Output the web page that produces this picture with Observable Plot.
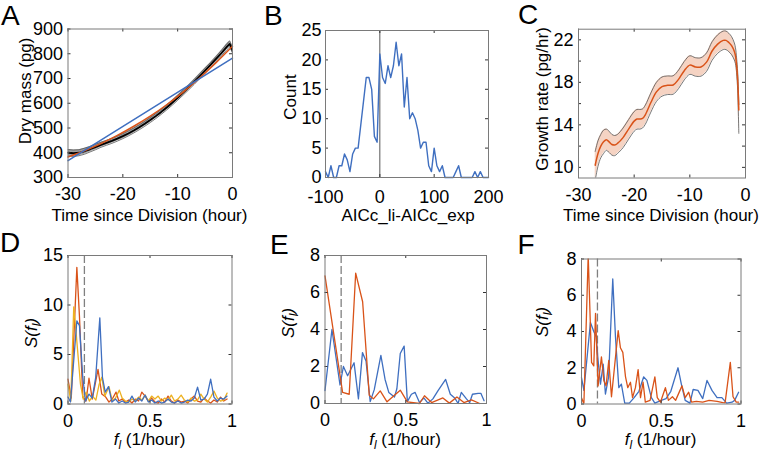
<!DOCTYPE html>
<html><head><meta charset="utf-8">
<script src="https://cdn.jsdelivr.net/npm/d3@7"></script>
<script src="https://cdn.jsdelivr.net/npm/@observablehq/plot@0.6"></script>
<style>
body{margin:0;background:#fff;}
#fig{position:relative;width:762px;height:454px;overflow:hidden;background:#fff}
#fig svg{position:absolute;left:0;top:0}
</style></head><body><div id="fig"></div>
<script>
// ---------------- DATA ----------------
// Panel A: dry mass vs time since division
const aTime = [-30,-29,-28,-27,-26,-25,-24,-23,-22,-21,-20,-19,-18,-17,-16,-15,-14,-13,-12,-11,-10,-9,-8,-7,-6,-5,-4,-3,-2,-1,-0.5,0];
const aMean = [400,398,400,406,414,423,432,440,448,457,467,478,490,503,517,532,548,565,583,602,622,643,664,686,709,732,755,779,803,829,840,815];
const aErr  = [13,13,12,12,11,11,10,10,10,10,10,10,10,10,10,10,10,10,10,10,10,10,10,10,10,10,10,10,11,12,12,12];
const aExpT = [-30,-27,-24,-21,-18,-15,-12,-9,-6,-3,0];
const aExpV = [383,408,437,470,507,548,594,645,702,764,830];
const aLinT = [-30,0];
const aLinV = [368,782];
const aXTicks = [-30,-20,-10,0];
const aYTicks = [300,400,500,600,700,800,900];

// Panel B: histogram of AICc_li - AICc_exp
const bX = [-100,-95,-90,-85,-80,-75,-70,-65,-60,-55,-50,-45,-40,-35,-30,-25,-20,-15,-10,-5,0,5,10,15,20,25,30,35,40,45,50,55,60,65,70,75,80,85,90,95,100,105,110,115,120,125,130,135,140,145,150,155,160,165,170,175,180,185,190,195,200];
const bCount = [1,0,2,0,0,2,2,4,3,1,4,5,5,9,13,17,17,15,7,6,21,17,16,19,17,19,23,19,21,12,17,10,11,10,8,5,6,6,2,1,5,2,1,2,0,0,0,0,1,2,0,0,0,0,0,1,0,1,0,0,0];
const bXTicks = [-100,0,100,200];
const bYTicks = [0,5,10,15,20,25];

// Panel C: growth rate
const cTime = [-27.0,-26.5,-26.0,-25.5,-25.0,-24.5,-24.0,-23.5,-23.0,-22.0,-21.0,-20.0,-19.5,-19.0,-18.5,-18.0,-17.0,-16.0,-15.0,-14.0,-13.0,-12.0,-11.0,-10.0,-9.0,-8.0,-7.0,-6.0,-5.0,-4.0,-3.5,-3.0,-2.5,-2.0,-1.8,-1.6,-1.4,-1.2];
const cMean = [10.2,11.3,12.0,12.4,12.6,12.4,12.15,12.1,12.25,12.8,13.6,14.35,14.55,14.55,14.6,14.95,16.1,17.1,17.6,17.72,17.75,18.3,19.1,19.62,19.45,19.45,19.9,20.95,21.6,21.95,21.95,21.75,21.45,20.9,20.5,19.6,18.2,15.4];
const cHi   = [11.5,12.5,13.1,13.5,13.6,13.4,13.1,13.0,13.1,13.7,14.5,15.25,15.45,15.45,15.5,15.85,17.0,18.0,18.5,18.6,18.62,19.17,19.97,20.5,20.32,20.32,20.77,21.82,22.47,22.82,22.82,22.62,22.3,21.7,21.25,20.3,18.9,15.9];
const cLo   = [8.8,10.1,10.9,11.3,11.6,11.4,11.15,11.1,11.3,11.85,12.65,13.4,13.6,13.6,13.7,14.05,15.2,16.2,16.7,16.85,16.88,17.43,18.23,18.75,18.58,18.58,19.03,20.08,20.73,21.08,21.08,20.88,20.6,20.1,19.75,18.9,17.2,13.2];
const cXTicks = [-30,-20,-10,0];
const cYTicks = [10,14,18,22];
const cYTickMarks = [10,12,14,16,18,20,22];

// Panel D: spectra (three series)
const dOrangeF = [0,0.02,0.054,0.07,0.09,0.11,0.128,0.148,0.183,0.206,0.23,0.25,0.27,0.293,0.31,0.33,0.35,0.37,0.39,0.41,0.43,0.45,0.47,0.49,0.51,0.53,0.55,0.57,0.59,0.61,0.63,0.65,0.67,0.69,0.71,0.73,0.75,0.77,0.79,0.81,0.83,0.85,0.87,0.89,0.91,0.93,0.95,0.97];
const dOrangeS = [2.5,0.6,13.8,8.8,0.7,0.3,2.6,0.5,3.5,1.0,0.7,0.2,0.5,1.2,0.3,0.5,0.2,0.4,0.1,0.5,0.3,1.2,0.8,0.3,0.6,0.2,0.1,0.5,0.2,0.8,0.3,0.1,0.4,0.2,0.3,0.1,0.5,0.8,0.3,0.2,0.6,0.3,0.1,0.4,0.2,0.7,0.3,0.5];
const dYellowF = [0,0.017,0.035,0.05,0.076,0.093,0.11,0.13,0.15,0.17,0.19,0.206,0.225,0.25,0.27,0.29,0.313,0.33,0.35,0.37,0.39,0.41,0.43,0.45,0.47,0.49,0.51,0.53,0.55,0.57,0.59,0.61,0.63,0.65,0.67,0.69,0.71,0.73,0.75,0.77,0.79,0.81,0.83,0.85,0.87,0.89,0.91,0.93,0.95,0.97];
const dYellowS = [2.0,0.3,9.8,7.1,2.0,0.5,1.2,0.3,0.8,0.4,2.0,2.7,0.8,1.75,0.3,0.6,1.4,0.6,0.3,0.2,0.5,0.3,0.7,0.4,0.9,0.3,0.8,0.5,0.8,0.3,0.6,0.4,0.9,0.3,0.5,0.9,0.4,0.2,0.6,0.3,0.4,1.0,0.5,0.2,0.7,1.3,0.6,0.3,0.4,1.1];
const dBlueF = [0,0.015,0.054,0.07,0.09,0.107,0.128,0.148,0.169,0.194,0.21,0.227,0.247,0.268,0.29,0.31,0.33,0.35,0.37,0.39,0.41,0.43,0.45,0.47,0.49,0.51,0.53,0.55,0.57,0.59,0.61,0.63,0.65,0.67,0.69,0.71,0.73,0.75,0.77,0.79,0.81,0.83,0.85,0.87,0.89,0.91,0.93,0.95,0.97];
const dBlueS = [0.7,0.2,8.4,7.9,2.7,0.3,1.0,0.6,2.7,8.7,2.7,1.2,1.75,0.2,0.5,0.1,0.3,0.1,0.2,0.8,0.2,0.6,0.3,0.9,0.2,0.4,0.1,0.3,0.1,0.2,0.5,0.2,0.1,0.3,0.1,0.2,0.4,0.3,0.6,1.7,0.4,0.5,1.0,2.5,0.7,0.3,0.6,0.5,0.8];
const dXTicks = [0,0.5,1];
const dYTicks = [0,5,10,15];

// Panel E: spectra
const eBlueF = [0,0.043,0.093,0.114,0.14,0.18,0.207,0.232,0.254,0.28,0.305,0.346,0.372,0.395,0.43,0.445,0.466,0.49,0.51,0.535,0.558,0.585,0.612,0.637,0.668,0.70,0.747,0.776,0.803,0.824,0.844,0.876,0.896,0.913,0.948,0.965,0.985];
const eBlueS = [0.7,4.0,1.0,2.0,1.5,2.2,0.25,2.75,2.3,0.1,0.75,2.6,1.3,0.6,0.35,0.8,2.7,3.1,0.1,0.5,0.6,0.05,0.3,0.02,0.25,0.7,1.3,0.5,0.3,0.0,0.6,0.25,0.05,0.5,0.55,0.55,0.15];
const eOrangeF = [0,0.109,0.15,0.19,0.233,0.274,0.30,0.342,0.384,0.466,0.51,0.585,0.616,0.66,0.73,0.77,0.817,0.86,0.907,0.958];
const eOrangeS = [6.9,0.6,0.5,7.05,5.5,0.45,0.25,0.68,0.09,0.72,0.09,0.0,0.42,0.05,0.3,0.02,0.35,0.05,0.2,0.0];
const eXTicks = [0,0.5,1];
const eYTicks = [0,2,4,6,8];

// Panel F: spectra
const fOrangeF = [0,0.015,0.042,0.063,0.077,0.088,0.104,0.125,0.14,0.154,0.171,0.188,0.23,0.244,0.259,0.276,0.29,0.307,0.32,0.338,0.355,0.37,0.386,0.40,0.43,0.46,0.475,0.495,0.526,0.545,0.57,0.59,0.63,0.65,0.672,0.69,0.72,0.76,0.80,0.85,0.90,0.933,0.95,0.97,0.985];
const fOrangeS = [0.35,0.0,8.2,2.3,2.1,5.0,1.0,2.6,1.3,1.0,2.4,0.4,4.05,3.1,2.85,1.5,0.9,1.2,0.35,0.9,1.9,0.35,1.2,0.1,0.2,1.5,0.35,0.1,0.9,0.2,0.4,0.2,1.0,0.35,0.65,0.1,0.15,0.1,0.2,0.15,0.05,2.3,0.4,0.1,0.1];
const fBlueF = [0,0.015,0.056,0.077,0.092,0.104,0.119,0.136,0.15,0.17,0.196,0.213,0.234,0.25,0.271,0.30,0.33,0.36,0.39,0.41,0.438,0.46,0.50,0.53,0.56,0.605,0.626,0.65,0.68,0.70,0.73,0.76,0.787,0.818,0.85,0.88,0.91,0.944,0.96,0.985];
const fBlueS = [1.45,0.75,4.5,4.0,3.7,2.4,1.1,2.2,0.55,1.5,6.9,3.7,0.9,1.1,0.05,0.05,0.35,0.7,1.5,1.3,0.35,0.05,0.2,0.3,0.7,2.0,1.1,0.2,0.05,0.8,0.75,0.3,1.3,0.75,0.35,0.35,0.05,0.1,0.2,0.65];
const fXTicks = [0,0.5,1];
const fYTicks = [0,2,4,6,8];

const cutoffF = [0.1];

// ---------------- STYLE ----------------
const W = 762, H = 454;
const FONT = '"Liberation Sans", Arial, Helvetica, sans-serif';
const BLUE = "#3f6fc0", ORANGE = "#d95319", YELLOW = "#edb120";
const TICKFONT = 18, LABFONT = 17;
const fig = document.getElementById("fig");

function panel({frame, xDomain, yDomain, xTicks, yTicks, xTickMarks = xTicks, yTickMarks = yTicks, marks, yPad = 5, xPad = 10}) {
  const [L, R, T, B] = frame;
  const pw = R - L, ph = B - T, tl = 3;
  const fmt = d => String(d);
  return Plot.plot({
    width: W, height: H,
    marginLeft: L, marginRight: W - R, marginTop: T, marginBottom: H - B,
    x: {domain: xDomain},
    y: {domain: yDomain},
    style: {background: "transparent", fontFamily: FONT, fontSize: TICKFONT + "px", color: "#000", overflow: "visible"},
    marks: [
      ...marks,
      Plot.tickX(xTickMarks, {x: d => d, insetTop: ph - tl, stroke: "#333"}),
      Plot.tickX(xTickMarks, {x: d => d, insetBottom: ph - tl, stroke: "#333"}),
      Plot.tickY(yTickMarks, {y: d => d, insetLeft: pw - tl, stroke: "#333"}),
      Plot.tickY(yTickMarks, {y: d => d, insetRight: pw - tl, stroke: "#333"}),
      Plot.axisX(xTicks, {tickSize: 0, tickPadding: xPad, label: null, tickFormat: fmt}),
      Plot.axisY(yTicks, {tickSize: 0, tickPadding: yPad, label: null, tickFormat: fmt}),
      Plot.frame({stroke: "#7a7a7a"})
    ]
  });
}

const aLo = aMean.map((v, i) => v - aErr[i]);
const aHi = aMean.map((v, i) => v + aErr[i]);

fig.append(panel({
  frame: [67.5, 232, 28.5, 177], xDomain: [-30, 0], yDomain: [300, 900],
  xTicks: aXTicks, yTicks: aYTicks,
  marks: [
    Plot.areaY(aTime, {x: aTime, y1: aLo, y2: aHi, fill: "#a0a0a0", clip: true}),
    Plot.line(aTime, {x: aTime, y: aLo, stroke: "#555", strokeWidth: 0.8, clip: true}),
    Plot.line(aTime, {x: aTime, y: aHi, stroke: "#555", strokeWidth: 0.8, clip: true}),
    Plot.line(aTime, {x: aTime, y: aMean, stroke: "#000", strokeWidth: 1.8, clip: true}),
    Plot.line(aExpT, {x: aExpT, y: aExpV, stroke: ORANGE, strokeWidth: 1.5, curve: "catmull-rom"}),
    Plot.line(aLinT, {x: aLinT, y: aLinV, stroke: BLUE, strokeWidth: 1.5})
  ]
}));

fig.append(panel({
  frame: [325, 488, 30, 177], xDomain: [-100, 200], yDomain: [0, 25],
  xTicks: bXTicks, yTicks: bYTicks, yPad: 4, xPad: 13,
  marks: [
    Plot.ruleX([0], {stroke: "#555", strokeWidth: 1}),
    Plot.line(bX, {x: bX, y: bCount, stroke: BLUE, strokeWidth: 1.4})
  ]
}));

fig.append(panel({
  frame: [578, 745, 28.7, 177.5], xDomain: [-30, 0], yDomain: [9, 23],
  xTicks: cXTicks, yTicks: cYTicks, yTickMarks: cYTickMarks,
  marks: [
    Plot.areaY(cTime, {x: cTime, y1: cLo, y2: cHi, fill: "#f5d3c3", curve: "catmull-rom", clip: true}),
    Plot.line(cTime, {x: cTime, y: cLo, stroke: "#555", strokeWidth: 0.8, curve: "catmull-rom", clip: true}),
    Plot.line(cTime, {x: cTime, y: cHi, stroke: "#555", strokeWidth: 0.8, curve: "catmull-rom", clip: true}),
    Plot.line(cTime, {x: cTime, y: cMean, stroke: ORANGE, strokeWidth: 1.5, curve: "catmull-rom", clip: true})
  ]
}));

const dash = {stroke: "#808080", strokeWidth: 1.3, strokeDasharray: "8,3"};
fig.append(panel({
  frame: [67.5, 231.5, 255, 403.5], xDomain: [0, 1], yDomain: [0, 15],
  xTicks: dXTicks, yTicks: dYTicks,
  marks: [
    Plot.ruleX(cutoffF, dash),
    Plot.line(dOrangeF, {x: dOrangeF, y: dOrangeS, stroke: ORANGE, strokeWidth: 1.3}),
    Plot.line(dYellowF, {x: dYellowF, y: dYellowS, stroke: YELLOW, strokeWidth: 1.3}),
    Plot.line(dBlueF, {x: dBlueF, y: dBlueS, stroke: BLUE, strokeWidth: 1.3})
  ]
}));

fig.append(panel({
  frame: [324.5, 486, 255, 403], xDomain: [0, 1], yDomain: [0, 8],
  xTicks: eXTicks, yTicks: eYTicks,
  marks: [
    Plot.ruleX(cutoffF, dash),
    Plot.line(eBlueF, {x: eBlueF, y: eBlueS, stroke: BLUE, strokeWidth: 1.3}),
    Plot.line(eOrangeF, {x: eOrangeF, y: eOrangeS, stroke: ORANGE, strokeWidth: 1.3})
  ]
}));

fig.append(panel({
  frame: [581, 740.5, 258.5, 403.5], xDomain: [0, 1], yDomain: [0, 8],
  xTicks: fXTicks, yTicks: fYTicks,
  marks: [
    Plot.ruleX(cutoffF, dash),
    Plot.line(fBlueF, {x: fBlueF, y: fBlueS, stroke: BLUE, strokeWidth: 1.3}),
    Plot.line(fOrangeF, {x: fOrangeF, y: fOrangeS, stroke: ORANGE, strokeWidth: 1.3, clip: true})
  ]
}));

// ---------------- LABELS (text overlay) ----------------
const ov = d3.select(fig).append("svg").attr("width", W).attr("height", H)
  .style("font-family", FONT).style("pointer-events", "none");

function addText(x, y, parts, {rotate = false, size = LABFONT, anchor = "middle", dy = 0} = {}) {
  const t = ov.append("text").attr("text-anchor", anchor).attr("font-size", size).attr("fill", "#000")
    .attr("transform", `translate(${x},${y})${rotate ? " rotate(-90)" : ""}`).attr("dy", dy);
  for (const p of parts) {
    const s = t.append("tspan").text(p.t);
    if (p.i) s.attr("font-style", "italic");
    if (p.sub) s.attr("font-size", size * 0.7).attr("dy", 4);
    if (p.up) s.attr("dy", -4);
  }
  return t;
}
const plainLab = s => [{t: s}];
const fl = [{t: "f", i: true}, {t: "l", i: true, sub: true}, {t: " (1/hour)", up: true}];
const sfl = [{t: "S(", i: true}, {t: "f", i: true}, {t: "l", i: true, sub: true}, {t: ")", i: true, up: true}];

// x labels
addText(149.5, 221, plainLab("Time since Division (hour)"));
addText(408, 221, plainLab("AICc_li-AICc_exp"));
addText(661, 221, plainLab("Time since Division (hour)"));
addText(149.5, 445, fl);
addText(405, 445, fl);
addText(660.5, 445, fl);
// y labels
addText(25, 91, plainLab("Dry mass (pg)"), {rotate: true, dy: "0.35em"});
addText(290, 97, plainLab("Count"), {rotate: true, dy: "0.35em"});
addText(542, 99, plainLab("Growth rate (pg/hr)"), {rotate: true, dy: "0.35em"});
addText(31.5, 333, sfl, {rotate: true, dy: "0.35em"});
addText(288, 323, sfl, {rotate: true, dy: "0.35em"});
addText(542, 322, sfl, {rotate: true, dy: "0.35em"});
// panel letters
const letters = [["A", 1, 25], ["B", 264, 25], ["C", 518, 24], ["D", 0, 252], ["E", 270, 254], ["F", 517.5, 254]];
for (const [l, x, y] of letters) addText(x, y, plainLab(l), {anchor: "start", size: 28});
</script></body></html>
